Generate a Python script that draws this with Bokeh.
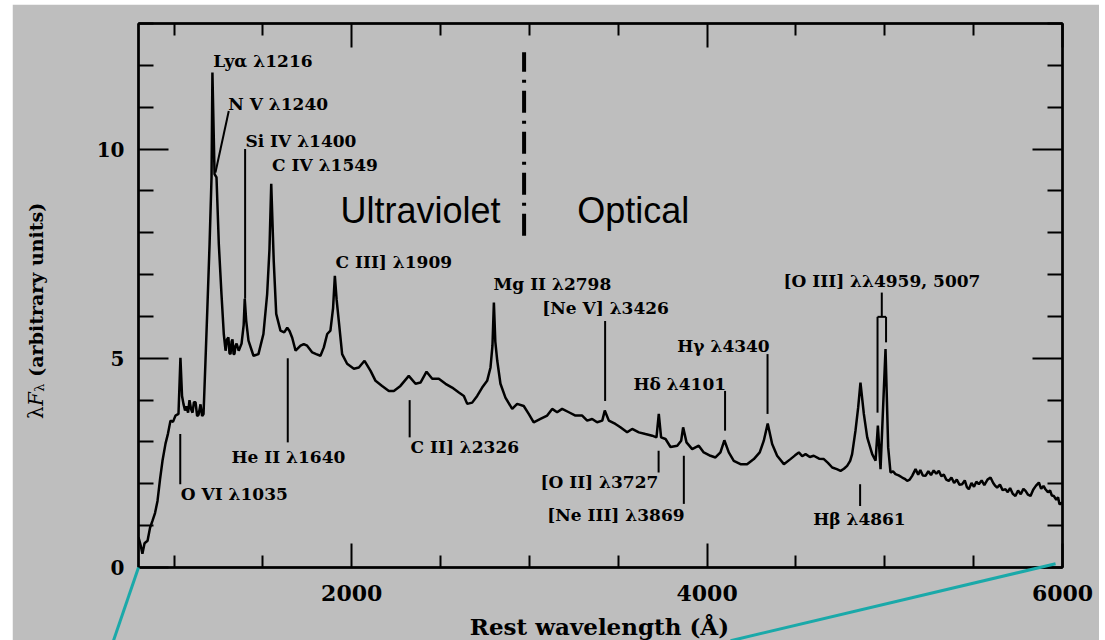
import math
from bokeh.plotting import figure
from bokeh.models import LinearAxis, FixedTicker, Range1d, ColumnDataSource
from bokeh.embed import file_html
from bokeh.resources import INLINE
from bokeh.core.properties import value

# ---------------- data ----------------
wavelength = [800, 811, 822, 834, 851, 865, 879, 893, 907, 921, 935, 952, 966, 980, 994, 1008, 1025,
              1036, 1045, 1053, 1062, 1070, 1079, 1087, 1096, 1104, 1112, 1121, 1130, 1138, 1149, 1158, 1166,
              1177, 1187, 1200, 1211, 1216, 1228, 1239, 1252, 1267, 1280, 1290, 1298, 1306, 1312, 1318,
              1324, 1329, 1335, 1340, 1346, 1352, 1364, 1380, 1392, 1398, 1406, 1419, 1447, 1475, 1503,
              1524, 1537, 1547, 1561, 1575, 1599, 1620, 1637, 1650, 1665, 1684, 1712, 1730, 1749, 1778,
              1800, 1824, 1843, 1862, 1880, 1895, 1905, 1915, 1927, 1946, 1974, 2012, 2040, 2072, 2106,
              2134, 2171, 2209, 2237, 2274, 2321, 2359, 2387, 2421, 2453, 2490, 2528, 2565, 2603, 2631,
              2650, 2678, 2706, 2734, 2762, 2781, 2792, 2800, 2808, 2819, 2837, 2865, 2903, 2931, 2968,
              2996, 3024, 3062, 3100, 3128, 3156, 3184, 3222, 3259, 3297, 3325, 3353, 3381, 3410, 3424,
              3447, 3484, 3512, 3550, 3578, 3616, 3653, 3691, 3715, 3728, 3741, 3766, 3794, 3832, 3854,
              3865, 3884, 3916, 3953, 3981, 4019, 4047, 4075, 4097, 4122, 4150, 4188, 4225, 4263, 4296,
              4319, 4341, 4366, 4394, 4432, 4469, 4495, 4516, 4535, 4554, 4578, 4600, 4630, 4657, 4680,
              4704, 4730, 4751, 4770, 4788, 4805, 4816, 4835, 4850, 4863, 4882, 4901, 4929, 4948, 4961,
              4976, 5004, 5019, 5032, 5046, 5060, 5078, 5098, 5112, 5126, 5140, 5154, 5173, 5188, 5200,
              5214, 5229, 5245, 5260, 5275, 5290, 5304, 5318, 5332, 5346, 5360, 5375, 5390, 5405, 5420,
              5435, 5450, 5462, 5473, 5488, 5502, 5515, 5529, 5545, 5560, 5578, 5595, 5610, 5622, 5632,
              5648, 5663, 5679, 5692, 5705, 5720, 5735, 5750, 5765, 5780, 5792, 5806, 5820, 5835, 5850,
              5867, 5880, 5893, 5904, 5918, 5930, 5940, 5951, 5965, 5975, 5983, 6000]
flux = [0.72, 0.55, 0.33, 0.58, 0.64, 0.95, 1.12, 1.30, 1.59, 2.10, 2.55, 2.96, 3.20, 3.51, 3.48, 3.63, 3.67,
        5.01, 4.10, 3.91, 3.75, 3.85, 3.70, 4.00, 3.78, 3.70, 3.95, 3.95, 3.62, 3.65, 3.90, 3.62, 3.67,
        4.94, 6.13, 7.73, 9.32, 11.83, 9.40, 9.32, 7.73, 6.53, 5.58, 5.18, 5.45, 5.50, 5.12, 5.10,
        5.40, 5.45, 5.10, 5.10, 5.30, 5.35, 5.18, 5.35, 5.80, 6.42, 5.90, 5.42, 5.06, 5.10, 5.58,
        6.53, 7.60, 9.17, 7.33, 6.06, 5.66, 5.62, 5.73, 5.65, 5.49, 5.18, 5.30, 5.34, 5.30, 5.14,
        5.10, 5.06, 5.26, 5.58, 5.66, 6.20, 6.97, 6.40, 5.90, 5.10, 4.87, 4.75, 4.78, 4.94, 4.70,
        4.46, 4.34, 4.22, 4.22, 4.34, 4.58, 4.39, 4.42, 4.68, 4.51, 4.51, 4.39, 4.30, 4.18, 4.10,
        3.91, 3.94, 4.10, 4.30, 4.46, 4.78, 5.30, 6.33, 5.40, 4.94, 4.39, 4.06, 3.79, 3.91, 3.86,
        3.67, 3.47, 3.55, 3.63, 3.79, 3.71, 3.79, 3.71, 3.63, 3.63, 3.51, 3.55, 3.47, 3.51, 3.75,
        3.51, 3.43, 3.35, 3.23, 3.31, 3.23, 3.19, 3.15, 3.11, 3.67, 3.11, 3.07, 2.88, 2.91, 3.03,
        3.35, 2.99, 2.83, 2.91, 2.75, 2.67, 2.63, 2.75, 3.04, 2.75, 2.55, 2.47, 2.47, 2.59, 2.75,
        3.03, 3.44, 2.95, 2.67, 2.47, 2.59, 2.68, 2.75, 2.66, 2.71, 2.64, 2.67, 2.60, 2.59, 2.50,
        2.39, 2.35, 2.31, 2.36, 2.43, 2.55, 2.71, 3.27, 3.82, 4.42, 3.67, 3.11, 2.71, 2.55, 3.39,
        2.35, 5.22, 2.87, 2.27, 2.30, 2.23, 2.20, 2.15, 2.12, 2.07, 2.10, 2.19, 2.35, 2.22, 2.33,
        2.20, 2.19, 2.30, 2.21, 2.32, 2.24, 2.31, 2.18, 2.22, 2.10, 2.07, 2.15, 2.02, 2.10, 1.98,
        1.99, 2.08, 1.92, 1.87, 2.02, 1.93, 2.05, 1.99, 2.08, 1.97, 2.10, 2.15, 2.02, 1.95, 1.91,
        1.98, 1.85, 1.87, 1.80, 1.90, 1.76, 1.71, 1.84, 1.75, 1.88, 1.83, 1.74, 1.71, 1.86, 1.95,
        2.03, 1.88, 1.95, 1.87, 1.80, 1.84, 1.72, 1.71, 1.62, 1.68, 1.51, 1.55]

x_major_ticks = [2000, 4000, 6000]
x_minor_ticks = [1000, 1500, 2500, 3000, 3500, 4500, 5000, 5500]
y_major_ticks = [0, 5, 10]
y_minor_ticks = [1, 2, 3, 4, 6, 7, 8, 9, 11, 12, 13]

line_names = ["Ly\u03b1 \u03bb1216", "N V \u03bb1240", "Si IV \u03bb1400", "C IV \u03bb1549",
              "C III] \u03bb1909", "Mg II \u03bb2798", "[Ne V] \u03bb3426", "H\u03b3 \u03bb4340",
              "H\u03b4 \u03bb4101", "[O III] \u03bb\u03bb4959, 5007", "He II \u03bb1640",
              "O VI \u03bb1035", "C II] \u03bb2326", "[O II] \u03bb3727", "[Ne III] \u03bb3869",
              "H\u03b2 \u03bb4861"]
label_x = [1220, 1305, 1402, 1552, 1909, 2798, 3072, 3832, 3586, 4430, 1323, 1038, 2331, 3062, 3100, 4597]
label_y = [12.11, 11.08, 10.20, 9.63, 7.31, 6.78, 6.19, 5.30, 4.39, 6.85, 2.65, 1.76, 2.89, 2.05, 1.26, 1.17]

# marker strokes from labels to lines
mark_x0 = [1308, 1400, 3426, 4340, 4101, 1640, 1035, 2326, 3727, 3869, 4861, 4983, 4959, 4959, 5007]
mark_y0 = [10.91, 10.0, 5.89, 5.10, 4.22, 5.00, 3.19, 4.00, 2.79, 2.67, 1.99, 6.57, 5.99, 5.99, 5.99]
mark_x1 = [1233, 1400, 3426, 4340, 4101, 1640, 1035, 2326, 3727, 3869, 4861, 4983, 5007, 4959, 5007]
mark_y1 = [9.44, 6.42, 3.98, 3.67, 3.27, 2.99, 1.99, 3.11, 2.27, 1.52, 1.47, 5.99, 5.99, 3.70, 5.38]

divider_x = 2970
divider_y = [7.93, 12.31]
region_names = ["Ultraviolet", "Optical"]
region_x = [1937, 3269]
region_y = [8.52, 8.52]

x_title = "Rest wavelength (\u00c5)"
y_title_parts = ["\u03bb", "F", "\u03bb", "(arbitrary units)"]

# zoom connector lines (run out of the plot frame)
conn_x0 = [800, 5961]
conn_y0 = [0.0, 0.09]
conn_x1 = [659, 4132]
conn_y1 = [-1.75, -1.75]

# ---------------- figure ----------------
BG = "#bebebe"
SERIF = "DejaVu Serif"

p = figure(width=1087, height=636, x_range=Range1d(800, 6000), y_range=Range1d(0, 13),
           output_backend="svg", toolbar_location=None,
           x_axis_location=None, y_axis_location=None, margin=(4, 0, 0, 12),
           min_border_left=126, min_border_right=37, min_border_top=19, min_border_bottom=73)
p.background_fill_color = BG
p.border_fill_color = BG
p.outline_line_color = "black"
p.outline_line_width = 2
p.xgrid.visible = False
p.ygrid.visible = False


def make_axis(ticks, minor, maj_len, min_len, show_labels, font_size, standoff):
    ax = LinearAxis(ticker=FixedTicker(ticks=ticks, minor_ticks=minor))
    ax.axis_line_color = "black"
    ax.axis_line_width = 2.5
    ax.major_tick_line_color = "black"
    ax.minor_tick_line_color = "black"
    ax.major_tick_line_width = 2
    ax.minor_tick_line_width = 2
    ax.major_tick_out = 0
    ax.minor_tick_out = 0
    ax.major_tick_in = maj_len
    ax.minor_tick_in = min_len
    ax.major_label_standoff = standoff
    if show_labels:
        ax.major_label_text_font = SERIF
        ax.major_label_text_font_style = "bold"
        ax.major_label_text_font_size = font_size
        ax.major_label_text_color = "black"
    else:
        ax.major_label_text_font_size = "0px"
        ax.major_label_text_alpha = 0
    return ax


p.add_layout(make_axis(x_major_ticks, x_minor_ticks, 24, 12, True, "22px", 17), "below")
p.add_layout(make_axis(x_major_ticks, x_minor_ticks, 24, 12, False, "0px", 0), "above")
p.add_layout(make_axis(y_major_ticks, y_minor_ticks, 30, 15, True, "20px", 14), "left")
p.add_layout(make_axis(y_major_ticks, y_minor_ticks, 30, 15, False, "0px", 0), "right")

# spectrum
p.line(wavelength, flux, line_color="black", line_width=2.5)

# marker strokes
p.segment(x0=mark_x0, y0=mark_y0, x1=mark_x1, y1=mark_y1, line_color="black", line_width=2)

# line labels
src = ColumnDataSource(dict(x=label_x, y=label_y, t=line_names))
p.text(x="x", y="y", text="t", source=src, text_font=value(SERIF), text_font_style="bold",
       text_font_size="17px", text_color="black", text_align="left", text_baseline="alphabetic")

# UV / optical divider
p.line(x=[divider_x, divider_x], y=divider_y, line_color="black", line_width=4, line_dash="22 8 3 8")
p.text(x=region_x, y=region_y, text=region_names, text_font=value("Liberation Sans"),
       text_font_size="36px", text_color="black", text_align="left", text_baseline="alphabetic")

# x title (overlay, below the frame)
p.text(x=[3394], y=[-1.40], text=[x_title], text_font=value(SERIF), text_font_style="bold",
       text_font_size="23px", text_color="black", text_align="center", text_baseline="alphabetic",
       level="overlay")

# y title pieces (outside the frame, overlay level)
yt_x = [221, 221, 244, 221]
yt_y = [3.55, 3.86, 4.20, 4.56]
yt_size = ["20px", "20px", "13px", "19px"]
yt_style = ["normal", "italic", "normal", "bold"]
ysrc = ColumnDataSource(dict(x=yt_x, y=yt_y, t=y_title_parts, s=yt_size, st=yt_style))
p.text(x="x", y="y", text="t", source=ysrc, angle=math.pi / 2, text_font=value(SERIF),
       text_font_size="s", text_font_style="st", text_color="black", text_align="left",
       text_baseline="alphabetic", level="overlay")

# connector lines
p.segment(x0=conn_x0, y0=conn_y0, x1=conn_x1, y1=conn_y1, line_color="#1aa9a9", line_width=3,
          level="overlay")

open("out.html", "w").write(file_html(p, INLINE))
